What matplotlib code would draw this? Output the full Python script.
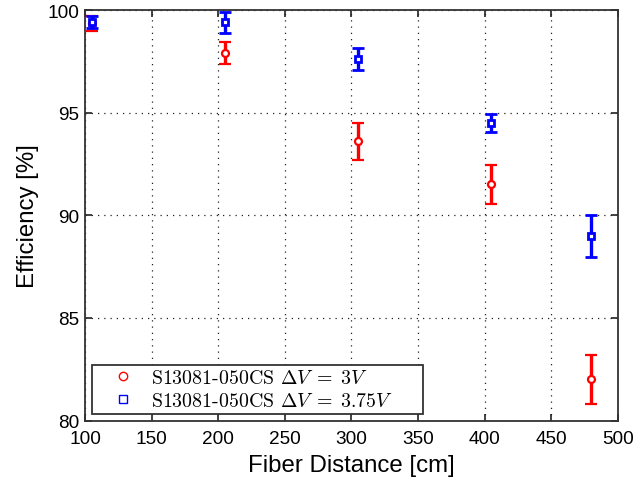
import matplotlib
matplotlib.use("Agg")
import matplotlib.pyplot as plt
from matplotlib.lines import Line2D

distance = [105, 205, 305, 405, 480]
eff_3v = [99.35, 97.9, 93.6, 91.5, 82.0]
err_3v = [0.35, 0.55, 0.9, 0.95, 1.2]
eff_375v = [99.4, 99.4, 97.6, 94.5, 89.0]
err_375v = [0.3, 0.5, 0.53, 0.44, 1.02]
labels = [r"S13081-050CS $\Delta V\;{=}\;3V$", r"S13081-050CS $\Delta V\;{=}\;3.75V$"]

plt.rcParams['mathtext.fontset'] = 'cm'
plt.rcParams['font.family'] = ['Liberation Sans', 'DejaVu Sans']

fig = plt.figure(figsize=(6.36, 4.85), dpi=100)
ax = fig.add_axes([0.1336, 0.1309, 0.9717 - 0.1336, 0.9773 - 0.1309])

ax.errorbar(distance, eff_3v, yerr=err_3v, fmt='o', color='red', ecolor='red',
            mfc='white', mec='red', ms=5, mew=1.6, elinewidth=2.4, capsize=4.5, capthick=2.4,
            zorder=3)
ax.errorbar(distance, eff_375v, yerr=err_375v, fmt='s', color='blue', ecolor='blue',
            mfc='white', mec='blue', ms=5, mew=2, elinewidth=2.4, capsize=4.5, capthick=2.4,
            zorder=4)

ax.set_xlim(100, 500)
ax.set_ylim(80, 100)
ax.set_xticks(range(100, 501, 50))
ax.set_yticks(range(80, 101, 5))
ax.grid(True, linestyle=(0, (1, 4)), color='#222222', linewidth=0.9)
ax.set_axisbelow(True)
ax.tick_params(direction='in', top=True, right=True, length=5, width=1.2,
               labelsize=13.7, colors='#222222', labelcolor='black')
ax.tick_params(axis='y', pad=4.3)
ax.tick_params(axis='x', pad=7)
for s in ax.spines.values():
    s.set_linewidth(1.3)
    s.set_color('#333333')

ax.set_xlabel("Fiber Distance [cm]", fontsize=17.3, labelpad=5)
ax.set_ylabel("Efficiency [%]", fontsize=17.3, labelpad=6)

handles = [Line2D([], [], marker='o', ls='none', mfc='white', mec='red', ms=6, mew=1),
           Line2D([], [], marker='s', ls='none', mfc='white', mec='blue', ms=6, mew=1)]
leg = ax.legend(handles, labels, loc='lower left',
                bbox_to_anchor=(0.0137, 0.016, 0.62, 0.12), mode='expand',
                prop={'family': 'cmr10', 'size': 14.3}, fancybox=False, framealpha=1,
                edgecolor='#333333', borderpad=0.2, handletextpad=0.05, labelspacing=0.25,
                handlelength=2.7, borderaxespad=0)
leg.get_frame().set_linewidth(1.3)

fig.savefig("out.png", dpi=100)
